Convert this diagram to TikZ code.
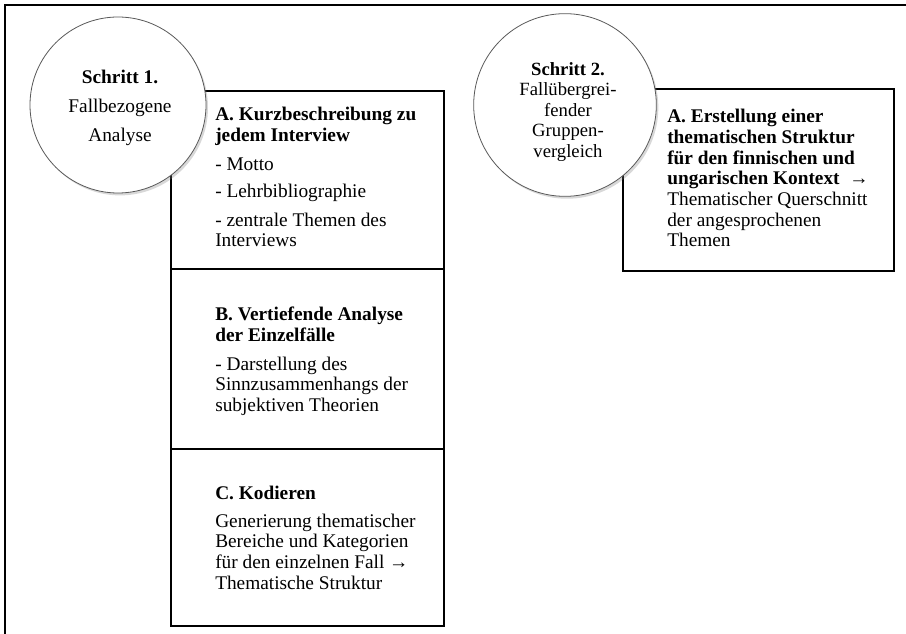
\documentclass[tikz,border=0pt]{standalone}
\usepackage{fontspec}
\setmainfont{Liberation Serif}
\usetikzlibrary{shadows}
\begin{document}
\begin{tikzpicture}[x=0.75pt,y=-0.75pt,
  frame/.style={line width=2pt,line cap=rect},
  box/.style={draw=black,line width=1.4pt,fill=white,anchor=north west,inner sep=0pt},
  circ/.style={circle,draw=black!65,line width=0.6pt,fill=white,inner sep=0pt,
    drop shadow={opacity=0.3,shadow xshift=1.5pt,shadow yshift=-1.8pt}},
  txt/.style={anchor=north west,inner sep=0pt,align=left,font=\fontsize{14.5}{15.5}\selectfont},
  ctxt/.style={anchor=north,inner sep=0pt,align=center}]
\useasboundingbox (0,0) rectangle (906,634);
\fill[white] (0,0) rectangle (906,634);
\draw[frame] (5,634) -- (5,5) -- (906,5);
% step 1 boxes
\node[box,minimum width=204.75pt,minimum height=133.5pt] (boxA) at (170,90) {};
\node[box,minimum width=204.75pt,minimum height=135pt] (boxB) at (170,268) {};
\node[box,minimum width=204.75pt,minimum height=132.75pt] (boxC) at (170,448) {};
% step 2 box
\node[box,minimum width=203.25pt,minimum height=136.5pt] (boxD) at (622,88) {};
% circles
\node[circ,minimum size=132pt] (c1) at (118,105) {};
\node[circ,minimum size=137pt] (c2) at (565,105) {};
% circle texts
\node[ctxt,font=\fontsize{14.5}{21.75}\selectfont] (t1) at (120,70)
  {\textbf{Schritt 1.}\\ Fallbezogene\\ Analyse};
\node[ctxt,font=\fontsize{14}{15.4}\selectfont] (t2) at (568,62)
  {\textbf{Schritt 2.}\\ Fallübergrei-\\ fender\\ Gruppen-\\ vergleich};
% box texts
\node[txt] (tA) at (215,107)
  {\textbf{A. Kurzbeschreibung zu}\\ \textbf{jedem Interview}\\[6pt]
   - Motto\\[5pt] - Lehrbibliographie\\[6pt] - zentrale Themen des\\ Interviews};
\node[txt] (tB) at (215,307)
  {\textbf{B. Vertiefende Analyse}\\ \textbf{der Einzelfälle}\\[6pt]
   - Darstellung des\\ Sinnzusammenhangs der\\ subjektiven Theorien};
\node[txt] (tC) at (215,486)
  {\textbf{C. Kodieren}\\[5pt] Generierung thematischer\\ Bereiche und Kategorien\\
   für den einzelnen Fall →\\ Thematische Struktur};
\node[txt] (tD) at (667,109)
  {\textbf{A. Erstellung einer}\\ \textbf{thematischen Struktur}\\
   \textbf{für den finnischen und}\\ \textbf{ungarischen Kontext}\ \ →\\
   Thematischer Querschnitt\\ der angesprochenen\\ Themen};
\end{tikzpicture}
\end{document}
